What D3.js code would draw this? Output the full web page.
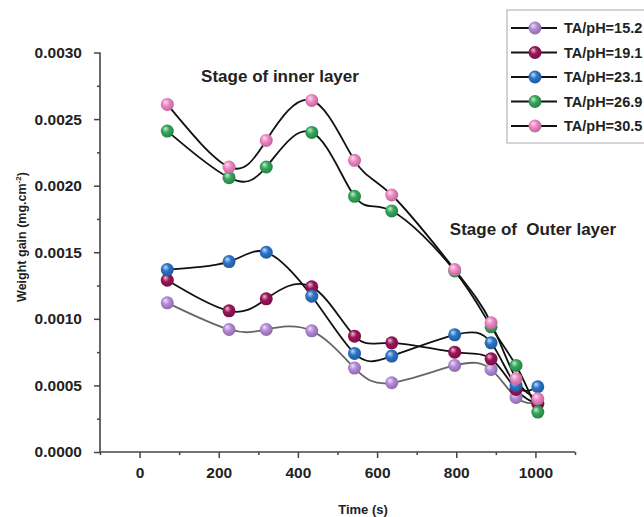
<!DOCTYPE html>
<html><head><meta charset="utf-8">
<script src="https://cdn.jsdelivr.net/npm/d3@7"></script>
<style>
body{margin:0;background:#fff;}
svg{display:block;font-family:"Liberation Sans",Arial,sans-serif;}
</style></head>
<body><svg id="c" width="644" height="517"></svg>
<script>
const times = [70, 226, 320, 435, 543, 637, 796, 888, 951, 1006];
const seriesNames = ["TA/pH=15.2","TA/pH=19.1","TA/pH=23.1","TA/pH=26.9","TA/pH=30.5"];
const s15_2 = [0.00112, 0.00092, 0.00092, 0.00091, 0.00063, 0.00052, 0.00065, 0.00062, 0.00041, 0.00037];
const s19_1 = [0.00129, 0.00106, 0.00115, 0.00124, 0.00087, 0.00082, 0.00075, 0.00070, 0.00047, 0.00036];
const s23_1 = [0.00137, 0.00143, 0.00150, 0.00117, 0.00074, 0.00072, 0.00088, 0.00082, 0.00050, 0.00049];
const s26_9 = [0.00241, 0.00206, 0.00214, 0.00240, 0.00192, 0.00181, 0.00136, 0.00094, 0.00065, 0.00030];
const s30_5 = [0.00261, 0.00214, 0.00234, 0.00264, 0.00219, 0.00193, 0.00137, 0.00097, 0.00055, 0.00040];
const seriesValues = [s15_2, s19_1, s23_1, s26_9, s30_5];
const colors = ["#b48ad8","#9a1457","#2a74c9","#34a65a","#ef86c4"];
const lineColors = ["#666","#111","#111","#111","#111"];
const xTicks = [0,200,400,600,800,1000];
const yTicks = [0,0.0005,0.001,0.0015,0.002,0.0025,0.003];

const svg = d3.select("#c");
const x = d3.scaleLinear().domain([-100,1100]).range([100,575]);
const y = d3.scaleLinear().domain([0,0.003]).range([452,52.5]);

// gradients
const defs = svg.append("defs");
colors.forEach((c,i)=>{
  const g = defs.append("radialGradient").attr("id","g"+i).attr("cx","45%").attr("cy","45%").attr("r","60%").attr("fx","35%").attr("fy","30%");
  g.append("stop").attr("offset","0%").attr("stop-color",d3.interpolateRgb(c,"#fff")(0.75));
  g.append("stop").attr("offset","45%").attr("stop-color",c);
  g.append("stop").attr("offset","100%").attr("stop-color",d3.color(c).darker(0.8));
});

const axisCol = "#444";
// axes
const xAxis = d3.axisBottom(x).tickValues(xTicks).tickSize(6).tickPadding(9).tickFormat(d3.format("d"));
const gx = svg.append("g").attr("transform","translate(0,452)").call(xAxis);
gx.selectAll("line").attr("stroke",axisCol).attr("stroke-width",1.5);
gx.select(".domain").remove();
gx.selectAll("text").attr("font-size","15.5px").attr("font-weight","bold").attr("fill","#222").attr("font-family","Liberation Sans, Arial");
svg.append("g").attr("transform","translate(0,452)")
  .call(d3.axisBottom(x).tickValues([-100,100,300,500,700,900,1100]).tickSize(3).tickFormat(""))
  .call(g=>{g.select(".domain").remove();g.selectAll("line").attr("stroke",axisCol).attr("stroke-width",1.5);});

const yAxis = d3.axisLeft(y).tickValues(yTicks).tickSize(6).tickPadding(12).tickFormat(d3.format(".4f"));
const gy = svg.append("g").attr("transform","translate(100,0)").call(yAxis);
gy.selectAll("line").attr("stroke",axisCol).attr("stroke-width",1.5);
gy.select(".domain").remove();
gy.selectAll("text").attr("font-size","15.5px").attr("font-weight","bold").attr("fill","#222").attr("font-family","Liberation Sans, Arial");
svg.append("g").attr("transform","translate(100,0)")
  .call(d3.axisLeft(y).tickValues(d3.range(0.00025,0.003,0.0005)).tickSize(3).tickFormat(""))
  .call(g=>{g.select(".domain").remove();g.selectAll("line").attr("stroke",axisCol).attr("stroke-width",1.5);});

svg.append("line").attr("x1",100).attr("x2",575).attr("y1",452).attr("y2",452).attr("stroke",axisCol).attr("stroke-width",1.6);
svg.append("line").attr("x1",100).attr("x2",100).attr("y1",52.5).attr("y2",452).attr("stroke",axisCol).attr("stroke-width",1.6);

// titles
svg.append("text").attr("x",363).attr("y",514).attr("text-anchor","middle").attr("font-size","13px").attr("font-weight","bold").attr("fill","#222").text("Time (s)");
const yt = svg.append("text").attr("transform","translate(26,237) rotate(-90)").attr("text-anchor","middle").attr("font-size","12.5px").attr("font-weight","bold").attr("fill","#222");
yt.append("tspan").text("Weight gain (mg.cm");
yt.append("tspan").attr("dy","-5").attr("font-size","8px").text("-2");
yt.append("tspan").attr("dy","5").text(")");

svg.append("text").attr("x",280).attr("y",82).attr("text-anchor","middle").attr("font-size","17px").attr("font-weight","bold").attr("fill","#222").text("Stage of inner layer");
svg.append("text").attr("x",533).attr("y",235).attr("text-anchor","middle").attr("font-size","17px").attr("font-weight","bold").attr("fill","#222").style("white-space","pre").text("Stage of  Outer layer");

// lines
const line = d3.line().x(d=>x(d[0])).y(d=>y(d[1])).curve(d3.curveNatural);
seriesValues.forEach((vals,i)=>{
  const pts = times.map((t,j)=>[t,vals[j]]);
  svg.append("path").attr("d",line(pts)).attr("fill","none").attr("stroke",lineColors[i]).attr("stroke-width",1.8);
});
seriesValues.forEach((vals,i)=>{
  svg.append("g").selectAll("circle").data(times.map((t,j)=>[t,vals[j]])).join("circle")
    .attr("cx",d=>x(d[0])).attr("cy",d=>y(d[1])).attr("r",6.5).attr("fill","url(#g"+i+")");
});

// legend
const lg = svg.append("g");
lg.append("rect").attr("x",507).attr("y",10).attr("width",150).attr("height",133).attr("fill","#fff").attr("stroke","#aaa").attr("stroke-width",1);
seriesNames.forEach((n,i)=>{
  const yy = 28 + i*24.5;
  lg.append("line").attr("x1",511).attr("x2",557).attr("y1",yy).attr("y2",yy).attr("stroke","#111").attr("stroke-width",1.8);
  lg.append("circle").attr("cx",535).attr("cy",yy).attr("r",6.5).attr("fill","url(#g"+i+")");
  lg.append("text").attr("x",564).attr("y",yy+5).attr("font-size","14.5px").attr("font-weight","bold").attr("fill","#222").text(n);
});
</script></body></html>
